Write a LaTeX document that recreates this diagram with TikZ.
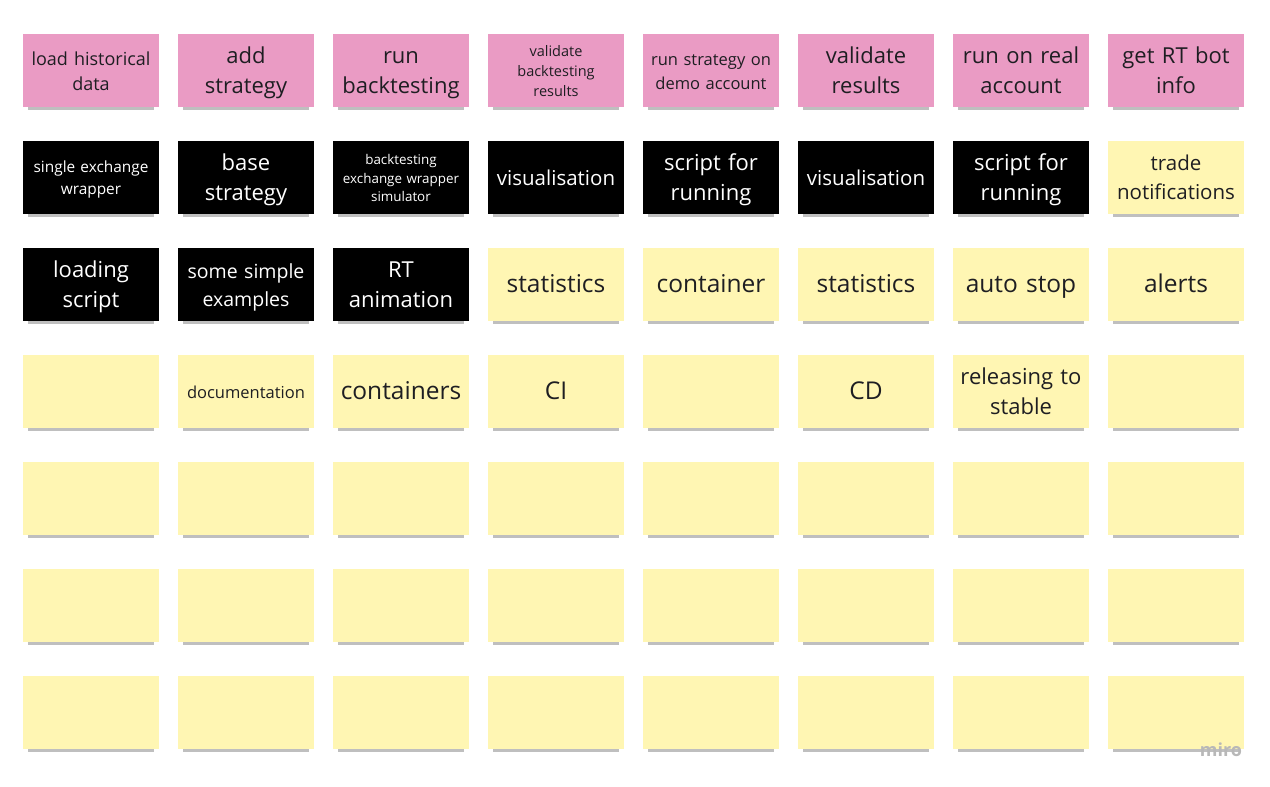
\documentclass[tikz,border=0pt]{standalone}
\usepackage{fontspec}
\setmainfont{Open Sans}
\usetikzlibrary{positioning,shadows}

\definecolor{notepink}{HTML}{EA9BC4}
\definecolor{noteyellow}{HTML}{FFF6B3}
\definecolor{notetext}{HTML}{1E1E22}

\begin{document}
\begin{tikzpicture}[x=1pt,y=-1pt,node distance=34pt and 19pt,
    note/.style={minimum width=136pt,minimum height=73pt,text width=128pt,inner sep=4pt,outer sep=0pt,align=center,
        font=\fontsize{22}{30}\selectfont,
        execute at begin node={\rule{0pt}{\dimexpr0.7\baselineskip+4pt\relax}},execute at end node=\strut,
        drop shadow={shadow xshift=0pt,shadow yshift=-6pt,shadow scale=0.92,opacity=0.5}},
    pink note/.style={note,fill=notepink,text=notetext},
    dark note/.style={note,fill=black,text=white},
    yellow note/.style={note,fill=noteyellow,text=notetext}]

    \useasboundingbox[fill=white] (0,0) rectangle (1270,787);

    % row 1
    \node[pink note,font=\fontsize{18}{25}\selectfont] (n11) at (91,70.5) {load historical\\data};
    \node[pink note] (n12) [right=of n11] {add\\strategy};
    \node[pink note] (n13) [right=of n12] {run\\backtesting};
    \node[pink note,font=\fontsize{14.5}{20}\selectfont] (n14) [right=of n13] {validate\\backtesting\\results};
    \node[pink note,font=\fontsize{16.5}{24}\selectfont] (n15) [right=of n14] {run strategy on\\demo account};
    \node[pink note] (n16) [right=of n15] {validate\\results};
    \node[pink note] (n17) [right=of n16] {run on real\\account};
    \node[pink note] (n18) [right=of n17] {get RT bot\\info};

    % row 2
    \node[dark note,font=\fontsize{15.4}{22}\selectfont] (n21) [below=of n11] {single exchange\\wrapper};
    \node[dark note] (n22) [right=of n21] {base\\strategy};
    \node[dark note,font=\fontsize{13.4}{18.5}\selectfont] (n23) [right=of n22] {backtesting\\exchange wrapper\\simulator};
    \node[dark note,font=\fontsize{20.5}{29}\selectfont] (n24) [right=of n23] {visualisation};
    \node[dark note] (n25) [right=of n24] {script for\\running};
    \node[dark note,font=\fontsize{20.5}{29}\selectfont] (n26) [right=of n25] {visualisation};
    \node[dark note] (n27) [right=of n26] {script for\\running};
    \node[yellow note,font=\fontsize{20.5}{29}\selectfont] (n28) [right=of n27] {trade\\notifications};

    % row 3
    \node[dark note] (n31) [below=of n21] {loading\\script};
    \node[dark note,font=\fontsize{19.5}{28}\selectfont] (n32) [right=of n31] {some simple\\examples};
    \node[dark note] (n33) [right=of n32] {RT\\animation};
    \node[yellow note,font=\fontsize{24.5}{32}\selectfont] (n34) [right=of n33] {statistics};
    \node[yellow note,font=\fontsize{24.5}{32}\selectfont] (n35) [right=of n34] {container};
    \node[yellow note,font=\fontsize{24.5}{32}\selectfont] (n36) [right=of n35] {statistics};
    \node[yellow note,font=\fontsize{24.5}{32}\selectfont] (n37) [right=of n36] {auto stop};
    \node[yellow note,font=\fontsize{24.5}{32}\selectfont] (n38) [right=of n37] {alerts};

    % row 4
    \node[yellow note] (n41) [below=of n31] {};
    \node[yellow note,font=\fontsize{16.5}{24}\selectfont] (n42) [right=of n41] {documentation};
    \node[yellow note,font=\fontsize{24.5}{32}\selectfont] (n43) [right=of n42] {containers};
    \node[yellow note,font=\fontsize{24.5}{32}\selectfont] (n44) [right=of n43] {CI};
    \node[yellow note] (n45) [right=of n44] {};
    \node[yellow note,font=\fontsize{24.5}{32}\selectfont] (n46) [right=of n45] {CD};
    \node[yellow note] (n47) [right=of n46] {releasing to\\stable};
    \node[yellow note] (n48) [right=of n47] {};

    % rows 5-7, still empty
    \node[yellow note] (n51) [below=of n41] {};
    \node[yellow note] (n52) [right=of n51] {};
    \node[yellow note] (n53) [right=of n52] {};
    \node[yellow note] (n54) [right=of n53] {};
    \node[yellow note] (n55) [right=of n54] {};
    \node[yellow note] (n56) [right=of n55] {};
    \node[yellow note] (n57) [right=of n56] {};
    \node[yellow note] (n58) [right=of n57] {};

    \node[yellow note] (n61) [below=of n51] {};
    \node[yellow note] (n62) [right=of n61] {};
    \node[yellow note] (n63) [right=of n62] {};
    \node[yellow note] (n64) [right=of n63] {};
    \node[yellow note] (n65) [right=of n64] {};
    \node[yellow note] (n66) [right=of n65] {};
    \node[yellow note] (n67) [right=of n66] {};
    \node[yellow note] (n68) [right=of n67] {};

    \node[yellow note] (n71) [below=of n61] {};
    \node[yellow note] (n72) [right=of n71] {};
    \node[yellow note] (n73) [right=of n72] {};
    \node[yellow note] (n74) [right=of n73] {};
    \node[yellow note] (n75) [right=of n74] {};
    \node[yellow note] (n76) [right=of n75] {};
    \node[yellow note] (n77) [right=of n76] {};
    \node[yellow note] (n78) [right=of n77] {};

    % board logo
    \node[text=black!28,font=\fontsize{18}{18}\selectfont\bfseries,inner sep=0pt] (logo) at (1221,750) {miro};
\end{tikzpicture}
\end{document}
